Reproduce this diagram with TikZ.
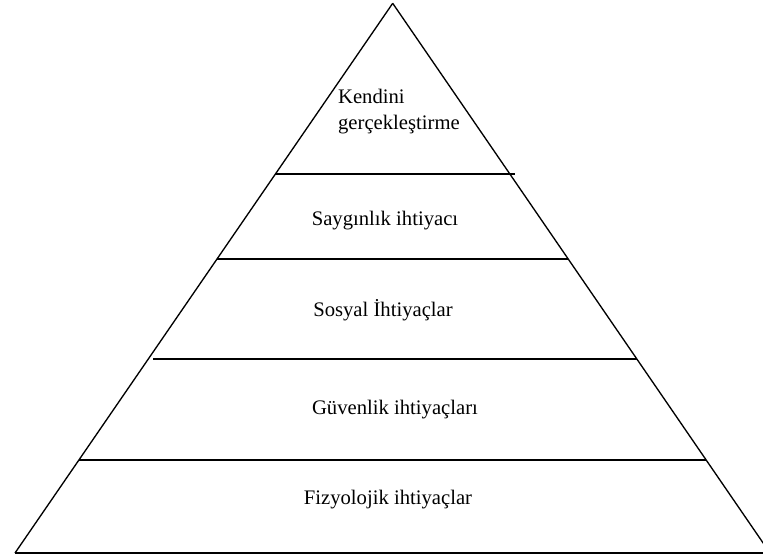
\documentclass[tikz,border=0pt]{standalone}
\usepackage{fontspec}
\setmainfont{Liberation Serif}
\begin{document}
\begin{tikzpicture}[x=0.75pt, y=-0.75pt, line width=1pt,
    levelfont/.style={font=\fontsize{15.5}{19.5}\selectfont}]
        \useasboundingbox (0,0) rectangle (763,558);
        \clip (0,0) rectangle (763,558);

        % pyramid outline
        \draw[-] (392.7,3.3) -- (15,553);
        \draw[-] (392.7,3.3) -- (770,553);
        \draw[-] (15,553) -- (770,553);

        % level borders
        \draw[-] (275,174) -- (515,174);
        \draw[-] (217,259) -- (568,259);
        \draw[-] (153,359) -- (637,359);
        \draw[-] (79,460) -- (706,460);

        \node[levelfont, align=left, anchor=west] (top) at (333,112) {Kendini\\gerçekleştirme};
        \node[levelfont] (esteem) at (385,221) {Saygınlık ihtiyacı};
        \node[levelfont] (social) at (383,310) {Sosyal İhtiyaçlar};
        \node[levelfont] (safety) at (395,410) {Güvenlik ihtiyaçları};
        \node[levelfont] (body) at (388,500) {Fizyolojik ihtiyaçlar};
    \end{tikzpicture}
\end{document}
